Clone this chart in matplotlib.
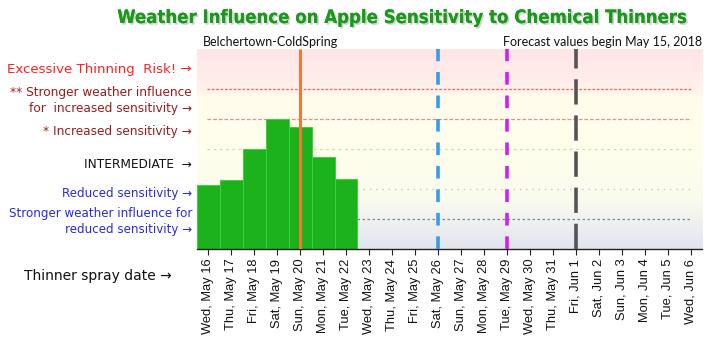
import matplotlib
matplotlib.use("Agg")
import matplotlib.pyplot as plt
import matplotlib.patheffects as pe
import numpy as np
from matplotlib.colors import LinearSegmentedColormap

# ---- data ----
dates = ["Wed, May 16", "Thu, May 17", "Fri, May 18", "Sat, May 19", "Sun, May 20",
         "Mon, May 21", "Tue, May 22", "Wed, May 23", "Thu, May 24", "Fri, May 25",
         "Sat, May 26", "Sun, May 27", "Mon, May 28", "Tue, May 29", "Wed, May 30",
         "Thu, May 31", "Fri, Jun 1", "Sat, Jun 2", "Sun, Jun 3", "Mon, Jun 4",
         "Tue, Jun 5", "Wed, Jun 6"]
values = [32.2, 34.5, 50.0, 65.0, 61.0, 46.2, 35.0]
level_lines = [80, 65, 50, 30, 15]
level_colors = ["#ff5a5a", "#f08a8a", "#c9dcb0", "#b8c0c8", "#7a8694"]
level_styles = [(0, (2, 1.5)), (0, (3, 1.5)), (0, (2, 3)), (0, (1, 4)), (0, (2, 2))]
marker_days = ["Sun, May 20", "Sat, May 26", "Tue, May 29", "Fri, Jun 1"]
marker_colors = ["#f07a35", "#3a9aec", "#cc22ee", "#555555"]

W, H = 711, 344
fig = plt.figure(figsize=(W / 100, H / 100), dpi=100)
fig.patch.set_facecolor("white")

def fx(x):
    return x / W

def fy(y):
    return 1 - y / H

ax = fig.add_axes([fx(196.7), fy(249), fx(702 - 196.7), (249 - 49) / H])
n = len(dates)
x = np.arange(n)
ax.set_xlim(-0.5, n - 0.5)
ax.set_ylim(0, 100)

# background gradient
stops = [(0.0, "#e0e5ee"), (0.10, "#eceef0"), (0.25, "#fafbee"), (0.5, "#ffffec"),
         (0.76, "#fffcec"), (0.80, "#fff1ea"), (0.9, "#ffeaea"), (1.0, "#ffe6e6")]
cmap = LinearSegmentedColormap.from_list("bg", stops)
grad = np.linspace(0, 1, 256).reshape(-1, 1)
ax.imshow(grad, cmap=cmap, aspect="auto", origin="lower",
          extent=(-0.5, n - 0.5, 0, 100), zorder=0)

# level lines
for lv, c, ls in zip(level_lines, level_colors, level_styles):
    ax.plot([-0.05, n - 1.0], [lv, lv], color=c, lw=0.9, linestyle=ls, zorder=1)

# bars
ax.bar(x[:len(values)], values, width=1.0, color="#1cb21c", edgecolor="#3fcf3f",
       linewidth=0.7, zorder=2)

# vertical markers
dash_styles = ["-", (0, (3.5, 3.0)), (0, (3.5, 3.0)), (0, (7, 3))]
for d, c, ls in zip(marker_days, marker_colors, dash_styles):
    xi = dates.index(d)
    ax.plot([xi, xi], [0, 100], color=c, lw=2.6 if ls != "-" else 2.2,
            linestyle=ls, zorder=3, solid_capstyle="butt", dash_capstyle="butt")

ax.set_xticks(x)
ax.set_xticklabels(dates, rotation=90, fontsize=9.3, family="Liberation Sans",
                   color="#111111")
ax.tick_params(axis="x", length=4, width=0.8, color="#222222", pad=3)
ax.set_yticks([])
for s in ["top", "right", "left"]:
    ax.spines[s].set_visible(False)
ax.spines["bottom"].set_color("#222222")
ax.spines["bottom"].set_linewidth(1.0)

# title
t = fig.text(fx(402), fy(18), "Weather Influence on Apple Sensitivity to Chemical Thinners",
             ha="center", va="center", fontsize=13.3, fontweight="bold",
             color="#1a9a1a", family="DejaVu Sans", stretch="condensed")
t.set_path_effects([pe.withSimplePatchShadow(offset=(1.2, -1.2), shadow_rgbFace="#999999",
                                             alpha=0.45), pe.Normal()])

fig.text(fx(203), fy(42), "Belchertown-ColdSpring", ha="left", va="center",
         fontsize=9, family="Lato", color="#111111")
fig.text(fx(702), fy(42), "Forecast values begin May 15, 2018", ha="right", va="center",
         fontsize=9, family="Lato", color="#111111")

# left labels
lab_kw = dict(ha="right", va="center", family="DejaVu Sans")
fig.text(fx(192), fy(70), "Excessive Thinning  Risk! \u2192", fontsize=9.6,
         color="#ff2020", **lab_kw)
fig.text(fx(192), fy(100), "** Stronger weather influence\nfor  increased sensitivity \u2192",
         fontsize=8.7, color="#9b1c1c", linespacing=1.3, **lab_kw)
fig.text(fx(192), fy(131), "* Increased sensitivity \u2192", fontsize=8.7,
         color="#9b1c1c", **lab_kw)
fig.text(fx(192), fy(165), "INTERMEDIATE  \u2192", fontsize=8.7,
         color="#111111", **lab_kw)
fig.text(fx(192), fy(193), "Reduced sensitivity \u2192", fontsize=8.6,
         color="#2a2ae0", **lab_kw)
fig.text(fx(192), fy(221.5), "Stronger weather influence for\nreduced sensitivity \u2192",
         fontsize=8.6, color="#2a2ae0", linespacing=1.3, **lab_kw)

fig.text(fx(24), fy(276), "Thinner spray date \u2192", ha="left", va="center",
         fontsize=10, family="DejaVu Sans", color="#111111")

fig.savefig("out.png", dpi=100)
